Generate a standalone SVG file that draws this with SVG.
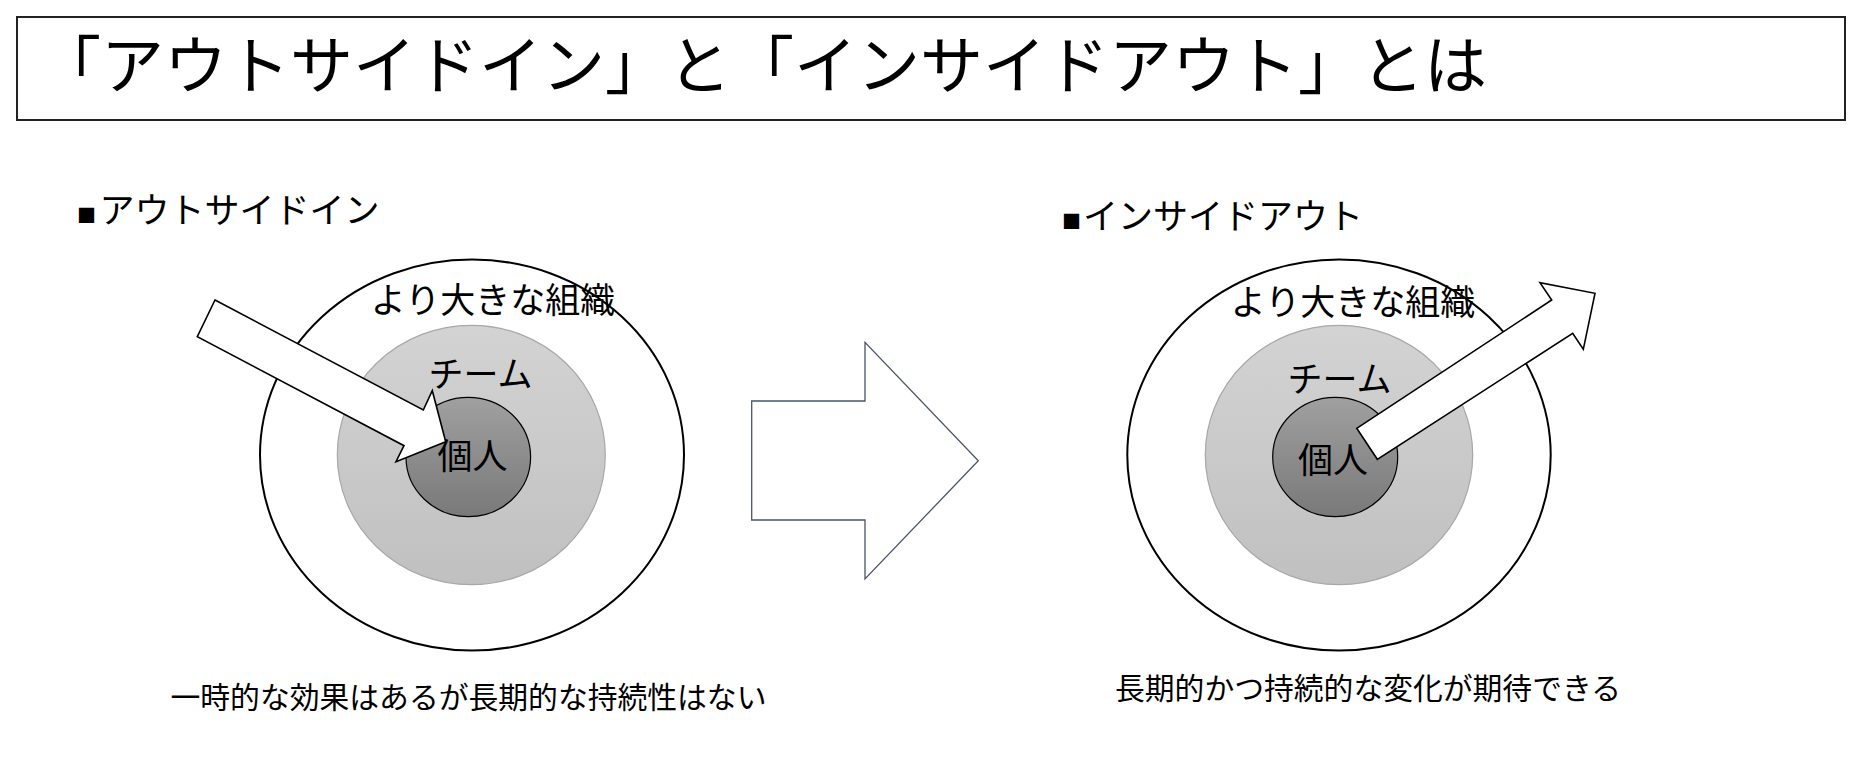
<svg xmlns="http://www.w3.org/2000/svg" width="1856" height="784" viewBox="0 0 1856 784">
<style>
text { font-family: "Noto Sans CJK JP", "Noto Sans", sans-serif; fill: #000; }
.title { font-size: 63px; }
.head { font-size: 35px; }
.sq { font-size: 19px; }
.lbl { font-size: 35px; text-anchor: middle; }
.note { font-size: 29.8px; text-anchor: middle; }
.outer { fill: #fff; stroke: #000; stroke-width: 2; }
.team { fill: url(#gTeam); stroke: #a8a8a8; stroke-width: 1.2; }
.indiv { fill: url(#gInd); stroke: #000; stroke-width: 1.2; }
.arrow { fill: #fff; stroke: #000; stroke-width: 1.6; stroke-linejoin: miter; }
.bigarrow { fill: #fff; stroke: #4a5468; stroke-width: 1.3; }
</style>
<defs>
<linearGradient id="gTeam" x1="0" y1="0" x2="0" y2="1">
<stop offset="0" stop-color="#d3d3d3"/>
<stop offset="1" stop-color="#c0c0c0"/>
</linearGradient>
<linearGradient id="gInd" x1="0" y1="0" x2="0" y2="1">
<stop offset="0" stop-color="#a0a0a0"/>
<stop offset="1" stop-color="#797979"/>
</linearGradient>
</defs>
<rect width="1856" height="784" fill="#fff"/>
<g id="title">
<rect x="17" y="17" width="1828" height="103" fill="#fff" stroke="#222" stroke-width="2"/>
<text class="title" x="38" y="88">「アウトサイドイン」と「インサイドアウト」とは</text>
</g>
<g id="heading-outside-in">
<text x="77" y="223"><tspan class="sq">■</tspan><tspan class="head" x="99.5">アウトサイドイン</tspan></text>
</g>
<g id="heading-inside-out">
<text x="1062" y="229"><tspan class="sq">■</tspan><tspan class="head" x="1083">インサイドアウト</tspan></text>
</g>
<g id="left-diagram">
<g id="left-org">
<ellipse class="outer" cx="472" cy="455" rx="212" ry="195.5"/>
<text class="lbl" x="493" y="313">より大きな組織</text>
</g>
<g id="left-team">
<ellipse class="team" cx="471.3" cy="455" rx="134" ry="129.7"/>
<text class="lbl" x="480.5" y="387">チーム</text>
</g>
<g id="left-individual">
<ellipse class="indiv" cx="468.3" cy="457" rx="62.3" ry="59.7"/>
<text class="lbl" x="472.5" y="469">個人</text>
</g>
</g>
<g id="right-diagram">
<g id="right-org">
<ellipse class="outer" cx="1339" cy="455" rx="211.7" ry="195.5"/>
<text class="lbl" x="1353" y="315">より大きな組織</text>
</g>
<g id="right-team">
<ellipse class="team" cx="1339" cy="455" rx="133.7" ry="129.7"/>
<text class="lbl" x="1339.5" y="392">チーム</text>
</g>
<g id="right-individual">
<ellipse class="indiv" cx="1335.2" cy="457" rx="62.5" ry="59.7"/>
<text class="lbl" x="1333" y="473">個人</text>
</g>
</g>
<g id="connectors">
<polygon class="arrow" points="215,300 423.3,410 432.3,390.7 445.7,441.7 396,461.7 404,445.7 197.3,336.7"/>
<polygon class="arrow" points="1356.7,428.3 1551.7,300 1540,282.7 1595,293.3 1583.3,349.3 1572.7,333.3 1377.3,459.3"/>
<polygon class="bigarrow" points="751.7,401 865,401 865,342.3 978.3,460.7 865,579 865,520 751.7,520"/>
</g>
<g id="notes">
<text class="note" x="468.5" y="708">一時的な効果はあるが長期的な持続性はない</text>
<text class="note" x="1368" y="699">長期的かつ持続的な変化が期待できる</text>
</g>
</svg>
